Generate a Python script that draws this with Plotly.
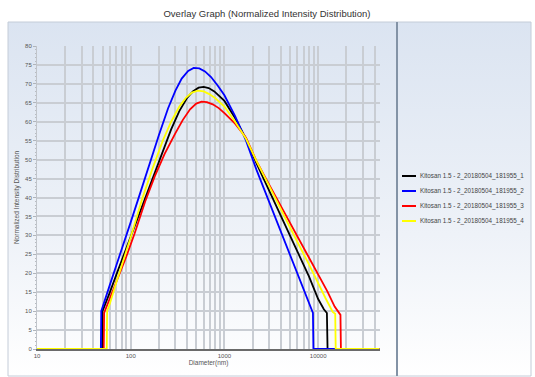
import base64
import plotly.graph_objects as go

# ---------------- data ----------------
names = [
    "Kitosan 1.5 - 2_20180504_181955_1",
    "Kitosan 1.5 - 2_20180504_181955_2",
    "Kitosan 1.5 - 2_20180504_181955_3",
    "Kitosan 1.5 - 2_20180504_181955_4",
]
colors = ["#000000", "#0000ff", "#ff0000", "#ffff00"]

d1 = [10, 49.5, 50, 53, 60, 70, 85, 100, 130, 170, 220, 270, 330, 400, 460, 530, 600, 680, 780, 900,
      1000, 1300, 1700, 2200, 3000, 4000, 5000, 6500, 8000, 10000, 11500, 12400, 12600, 45000]
v1 = [0, 0, 10, 11.5, 15, 19.5, 25, 30, 37.5, 45, 52.5, 58, 62.8, 66.3, 68, 69, 69.2, 68.9, 68, 66.7,
      65.5, 61, 55.5, 49, 41.8, 35.2, 29.9, 23.8, 19.1, 13.2, 10.5, 9.5, 0, 0]

d2 = [10, 48, 48.5, 52, 60, 70, 85, 100, 120, 150, 200, 250, 300, 350, 410, 470, 540, 620, 720, 850,
      1000, 1300, 1700, 2200, 3000, 4000, 5000, 6000, 7000, 8500, 8800, 8900, 45000]
v2 = [0, 0, 10, 12.5, 17, 22, 28, 33.5, 39.5, 47, 56.5, 63.5, 68.2, 71.4, 73.4, 74.2, 74.1, 73.3, 71.8, 69.5,
      67, 61.5, 55, 47.3, 38.9, 31.2, 25, 20.2, 16, 10.5, 9.5, 0, 0]

d3 = [10, 51.5, 52, 56, 63, 75, 90, 110, 143, 180, 230, 300, 360, 430, 500, 570, 650, 750, 870,
      1000, 1300, 1700, 2200, 3000, 4000, 5000, 6500, 8000, 10000, 12500, 15000, 16500, 17300, 17500, 45000]
v3 = [0, 0, 9.5, 11.5, 14.5, 19.5, 24.5, 30.5, 39, 45.5, 51.5, 57, 60.5, 63.3, 64.8, 65.3, 65.2, 64.6, 63.6,
      62.3, 59.5, 55.8, 49.6, 43.4, 37.8, 33.2, 28, 24, 19.7, 15.3, 11.2, 9.5, 9, 0, 0]

d4 = [10, 55.5, 56, 60, 70, 85, 100, 132, 170, 220, 270, 330, 390, 450, 520, 600, 690, 800, 900,
      1000, 1300, 1700, 2200, 3000, 4000, 5000, 6500, 8000, 10000, 12000, 14300, 15200, 15400, 45000]
v4 = [0, 0, 10, 12, 17.5, 24, 29.5, 39.5, 47.5, 55, 60, 64, 66.4, 67.7, 68.2, 68, 67.3, 66.2, 65,
      64, 60, 55.5, 49.6, 42.9, 37, 32.1, 26.6, 22.3, 17.3, 13.4, 9.8, 9.3, 0, 0]

diams = [d1, d2, d3, d4]
vals = [v1, v2, v3, v4]

x_grid = [m * 10 ** e for e in range(1, 4) for m in range(1, 10)] + [10000, 20000, 30000, 40000]
x_major = [10, 100, 1000, 10000]
x_text = [str(v) if v in x_major else "" for v in x_grid]
y_ticks = list(range(0, 81, 5))

# ---------------- layout helpers (pixel -> paper) ----------------
W, H = 535, 377
L, R, T, B = 37, 380, 46, 349


def px(x):
    return (x - L) / (R - L)


def py(y):
    return (B - y) / (B - T)


fig = go.Figure()
for d, v, n, c in zip(diams, vals, names, colors):
    fig.add_trace(go.Scatter(x=d, y=v, name=n, mode="lines",
                             line=dict(color=c, width=1.8), showlegend=False))

svg = ("<svg xmlns='http://www.w3.org/2000/svg' width='100' height='100' viewBox='0 0 100 100' "
       "preserveAspectRatio='none'><defs><linearGradient id='g' x1='0' y1='0' x2='0' y2='1'>"
       "<stop offset='0' stop-color='#dbe4f1'/><stop offset='0.6' stop-color='#eef2f8'/>"
       "<stop offset='1' stop-color='#ffffff'/></linearGradient></defs>"
       "<rect width='100' height='100' fill='url(#g)'/></svg>")
src = "data:image/svg+xml;base64," + base64.b64encode(svg.encode()).decode()

font = "Liberation Sans, Arial, sans-serif"
shapes = [
    dict(type="rect", xref="paper", yref="paper", x0=px(8), x1=px(531), y0=py(376), y1=py(22),
         line=dict(color="#c4ccd8", width=1), layer="below"),
    dict(type="line", xref="paper", yref="paper", x0=px(397), x1=px(397), y0=py(376), y1=py(22),
         line=dict(color="#8393a6", width=2)),
]
annotations = []
leg_y = [176, 191, 206, 221]
for n, c, yy in zip(names, colors, leg_y):
    shapes.append(dict(type="line", xref="paper", yref="paper", x0=px(402), x1=px(416),
                       y0=py(yy), y1=py(yy), line=dict(color=c, width=2)))
    annotations.append(dict(xref="paper", yref="paper", x=px(418), y=py(yy), text=n,
                            showarrow=False, xanchor="left", yanchor="middle",
                            font=dict(size=6.3, color="#444", family=font)))

fig.update_layout(
    width=W, height=H,
    margin=dict(l=L, r=W - R, t=T, b=H - B, autoexpand=False),
    paper_bgcolor="white",
    plot_bgcolor="rgba(0,0,0,0)",
    font=dict(family=font, color="#555"),
    title=dict(text="Overlay Graph (Normalized Intensity Distribution)", x=0.499, xanchor="center",
               y=1 - 14 / H, yanchor="middle", font=dict(size=9.5, color="#333", family=font)),
    images=[dict(source=src, xref="paper", yref="paper", x=px(8), y=py(22),
                 sizex=px(531) - px(8), sizey=py(22) - py(376), sizing="stretch",
                 xanchor="left", yanchor="top", layer="below")],
    shapes=shapes,
    annotations=annotations,
    xaxis=dict(type="log", range=[1, 4.66], tickvals=x_grid, ticktext=x_text, automargin=False,
               showgrid=True, gridcolor="#c9cdd3", gridwidth=1.5,
               showline=True, linecolor="#6a6a6a", linewidth=1.5,
               ticks="", tickfont=dict(size=6, color="#555"),
               title=dict(text="Diameter(nm)", font=dict(size=6.5, color="#555"), standoff=2),
               zeroline=False),
    yaxis=dict(range=[0, 80], tickvals=y_ticks, showgrid=True, gridcolor="#c9cdd3", gridwidth=1.5,
               automargin=False,
               showline=True, linecolor="#c0c4ca", linewidth=1,
               ticks="outside", ticklen=3, tickcolor="#b0b4ba",
               minor=dict(dtick=1, ticks="outside", ticklen=1.5, tickcolor="#b8bcc2", showgrid=False),
               tickfont=dict(size=6, color="#555"),
               title=dict(text="Normalized Intensity Distribution", font=dict(size=6.5, color="#555"),
                          standoff=4),
               zeroline=False),
)

fig.write_html("out.html", post_script="document.body.style.margin='0';",
               config={"displayModeBar": False})
